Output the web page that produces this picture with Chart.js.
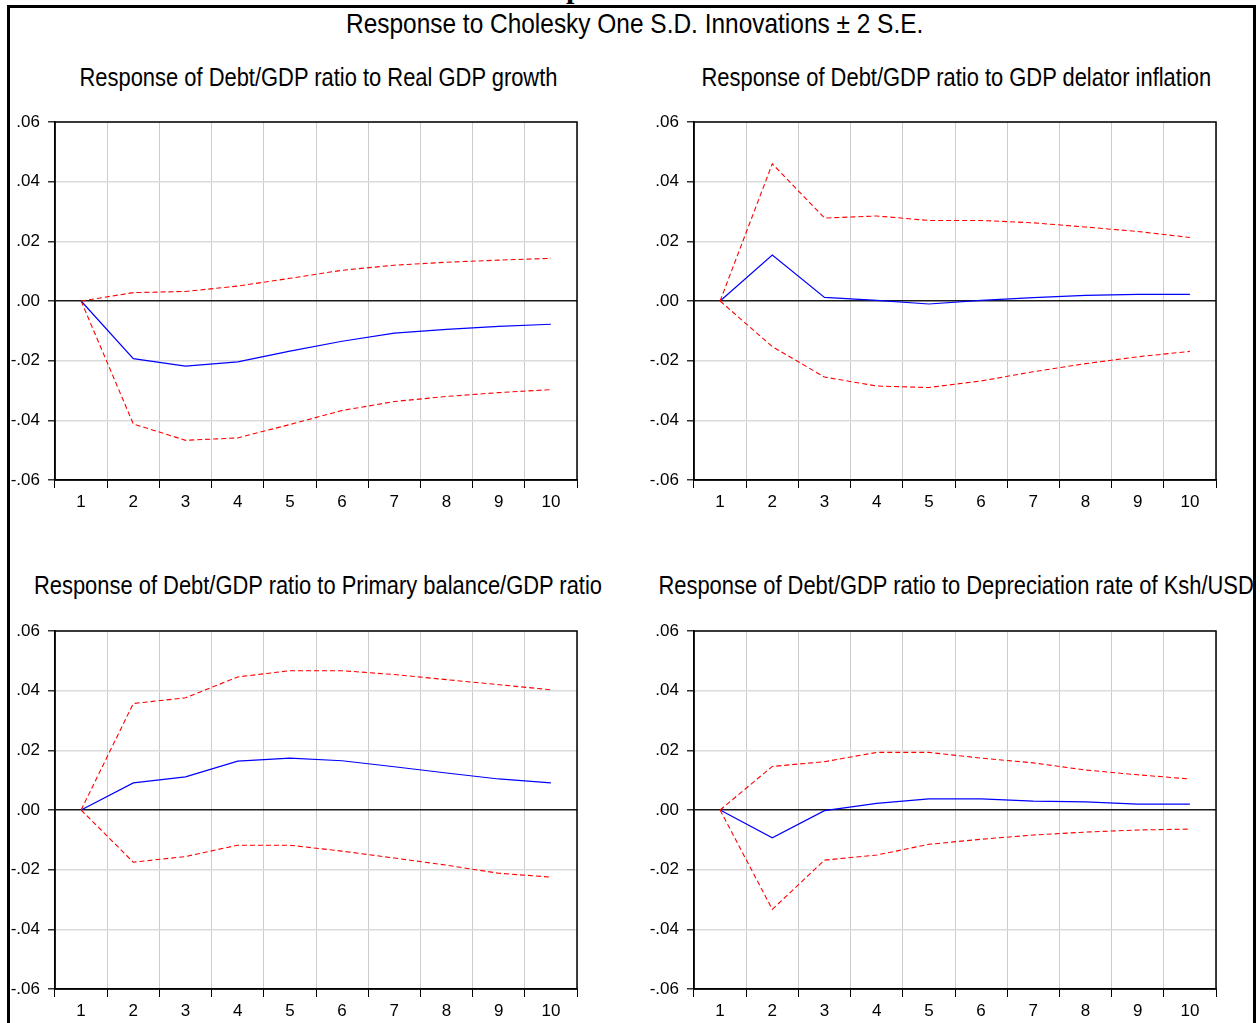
<!DOCTYPE html>
<html>
<head>
<meta charset="utf-8">
<script src="https://cdn.jsdelivr.net/npm/chart.js@4.4.1/dist/chart.umd.min.js"></script>
<style>
  body { margin: 0; background: #fff; width: 1260px; height: 1023px; overflow: hidden; position: relative; }
  .frame { position: absolute; left: 7px; top: 5px; width: 1249px; height: 1100px; border: 3px solid #000; box-sizing: border-box; }
  .cut { position: absolute; left: 0; top: 0; width: 1260px; height: 5px; overflow: hidden; }
  .cut span { position: absolute; left: 566px; top: -27px; font: bold 30px/30px "Liberation Serif", serif; }
  .ttl { position: absolute; width: 1000px; text-align: center; white-space: nowrap; color: #000; }
  .ttl span { display: inline-block; }
  canvas { position: absolute; }
</style>
</head>
<body>
<div class="cut"><span>p</span></div>
<div class="frame"></div>
<div class="ttl" id="t0" style="left:135px;top:10px;font-size:28px;line-height:28px"></div>
<div class="ttl" id="t1" style="left:-182px;top:64px;font-size:26px;line-height:26px"></div>
<div class="ttl" id="t2" style="left:456px;top:64px;font-size:26px;line-height:26px"></div>
<div class="ttl" id="t3" style="left:-182px;top:572px;font-size:26px;line-height:26px"></div>
<div class="ttl" id="t4" style="left:456px;top:572px;font-size:26px;line-height:26px"></div>
<canvas id="c1" width="600" height="400" style="left:10px;top:112px"></canvas>
<canvas id="c2" width="600" height="400" style="left:649px;top:112px"></canvas>
<canvas id="c3" width="600" height="400" style="left:10px;top:621px"></canvas>
<canvas id="c4" width="600" height="400" style="left:649px;top:621px"></canvas>
<script>
const steps = ['1', '2', '3', '4', '5', '6', '7', '8', '9', '10'];
const yMin = -0.06, yMax = 0.06, yStep = 0.02;

const mainTitle = 'Response to Cholesky One S.D. Innovations \u00b1 2 S.E.';
const panelTitles = [
  'Response of Debt/GDP ratio to Real GDP growth',
  'Response of Debt/GDP ratio to GDP delator inflation',
  'Response of Debt/GDP ratio to Primary balance/GDP ratio',
  'Response of Debt/GDP ratio to Depreciation rate of Ksh/USD'
];

// response of debt/gdp to real gdp growth
const growthResp  = [0, -0.0193, -0.0218, -0.0204, -0.0168, -0.0135, -0.0108, -0.0095, -0.0085, -0.0078];
const growthUpper = [0, 0.0028, 0.0032, 0.0050, 0.0076, 0.0103, 0.0120, 0.0130, 0.0137, 0.0143];
const growthLower = [0, -0.0412, -0.0467, -0.0459, -0.0414, -0.0367, -0.0337, -0.0320, -0.0307, -0.0297];

// gdp deflator inflation
const inflResp  = [0, 0.0154, 0.0012, 0.0002, -0.0010, 0.0002, 0.0011, 0.0019, 0.0022, 0.0022];
const inflUpper = [0, 0.0460, 0.0278, 0.0285, 0.0270, 0.0270, 0.0262, 0.0248, 0.0233, 0.0213];
const inflLower = [0, -0.0153, -0.0255, -0.0285, -0.0290, -0.0268, -0.0237, -0.0210, -0.0187, -0.0169];

// primary balance/gdp
const pbResp  = [0, 0.0091, 0.0111, 0.0164, 0.0174, 0.0165, 0.0145, 0.0124, 0.0104, 0.0091];
const pbUpper = [0, 0.0357, 0.0376, 0.0446, 0.0467, 0.0467, 0.0454, 0.0437, 0.0420, 0.0403];
const pbLower = [0, -0.0175, -0.0156, -0.0118, -0.0118, -0.0138, -0.0161, -0.0185, -0.0212, -0.0225];

// depreciation ksh/usd
const fxResp  = [0, -0.0093, -0.0002, 0.0022, 0.0037, 0.0037, 0.0030, 0.0027, 0.0020, 0.0020];
const fxUpper = [0, 0.0146, 0.0162, 0.0193, 0.0193, 0.0174, 0.0158, 0.0134, 0.0118, 0.0104];
const fxLower = [0, -0.0333, -0.0168, -0.0151, -0.0115, -0.0098, -0.0084, -0.0074, -0.0067, -0.0064];

function hasFont(name) {
  let c = document.createElement('canvas').getContext('2d');
  c.font = '40px monospace';
  let a = c.measureText('Response abc').width;
  c.font = `40px "${name}", monospace`;
  return c.measureText('Response abc').width !== a;
}
let narrow = hasFont('Liberation Sans Narrow');
let titleFont = narrow ? '"Liberation Sans Narrow", "Liberation Sans", Arial, sans-serif' : '"Liberation Sans", Arial, sans-serif';

[mainTitle].concat(panelTitles).forEach((t, i) => {
  let div = document.getElementById('t' + i);
  div.style.fontFamily = titleFont;
  let span = document.createElement('span');
  span.textContent = t;
  // no narrow face here, so squeeze the regular one
  if (!narrow) span.style.transform = i == 0 ? 'scaleX(0.873)' : 'scaleX(0.843)';
  div.appendChild(span);
});

Chart.defaults.font.family = '"Liberation Sans", Arial, sans-serif';
Chart.defaults.color = '#000';

let fmt = v => {
  let a = Math.abs(v);
  if (a < 1e-9) return '.00';
  return (v < 0 ? '-' : '') + a.toFixed(2).slice(1);
}

const frameBox = {
  id: 'frameBox',
  afterDraw(chart) {
    let { ctx, chartArea: a } = chart;
    ctx.save();
    ctx.strokeStyle = '#000';
    ctx.lineWidth = 1.5;
    ctx.strokeRect(a.left, a.top, a.right - a.left, a.bottom - a.top);
    ctx.restore();
  }
};

function makeChart(id, resp, upper, lower) {
  let red = { borderColor: '#ff0000', borderWidth: 1.1, borderDash: [5, 3], pointRadius: 0, fill: false, tension: 0 };
  return new Chart(document.getElementById(id), {
    type: 'line',
    data: {
      labels: steps,
      datasets: [
        Object.assign({ data: upper }, red),
        Object.assign({ data: lower }, red),
        { data: resp, borderColor: '#0000ff', borderWidth: 1.2, pointRadius: 0, fill: false, tension: 0 }
      ]
    },
    options: {
      responsive: false,
      animation: false,
      devicePixelRatio: 1,
      layout: { padding: { top: 10, right: 33, bottom: 2, left: 0 } },
      plugins: { legend: { display: false }, tooltip: { enabled: false } },
      scales: {
        x: {
          type: 'category',
          offset: true,
          grid: { offset: true, color: '#cccccc', lineWidth: 1, tickColor: '#000', tickLength: 8 },
          border: { color: '#000', width: 1.5 },
          ticks: { autoSkip: false, maxRotation: 0, padding: 4, font: { size: 17 } },
          afterFit: s => { s.height = 30; s.paddingLeft = 0; s.paddingRight = 0; }
        },
        y: {
          min: yMin,
          max: yMax,
          grid: {
            color: c => (c.tick && Math.abs(c.tick.value) < 1e-9) ? '#1a1a1a' : '#dcdcdc',
            lineWidth: 1.5,
            tickColor: '#333',
            tickLength: 7
          },
          border: { color: '#000', width: 1.5 },
          ticks: { stepSize: yStep, padding: 8, font: { size: 17 }, callback: fmt },
          afterFit: s => { s.width = 45; s.paddingTop = 0; s.paddingBottom = 0; }
        }
      }
    },
    plugins: [frameBox]
  });
}

makeChart('c1', growthResp, growthUpper, growthLower);
makeChart('c2', inflResp, inflUpper, inflLower);
makeChart('c3', pbResp, pbUpper, pbLower);
makeChart('c4', fxResp, fxUpper, fxLower);
</script>
</body>
</html>
